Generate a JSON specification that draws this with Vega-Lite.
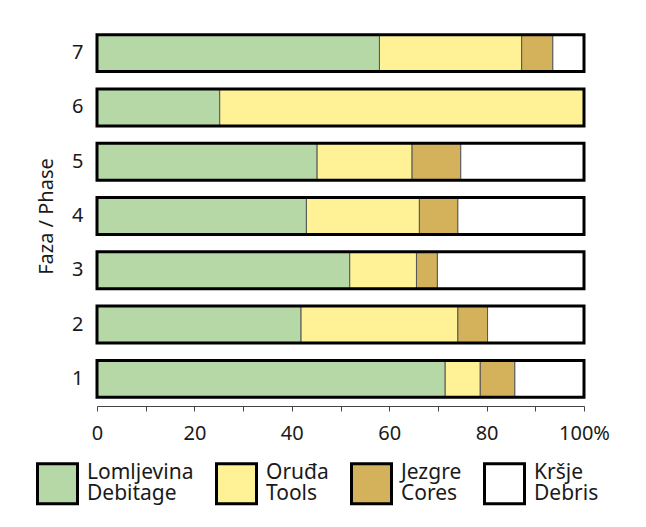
{
  "$schema": "https://vega.github.io/schema/vega-lite/v6.json",
  "autosize": {"type": "none"},
  "padding": {"left": 97, "top": 26, "right": 62, "bottom": 121},
  "width": 487,
  "height": 380,
  "background": "white",
  "config": {
    "view": {"stroke": null},
    "font": "Noto Sans",
    "axis": {"labelFont": "Noto Sans", "titleFont": "Noto Sans", "labelColor": "#1a1a1a", "titleColor": "#1a1a1a"},
    "legend": {"labelFont": "Noto Sans", "labelColor": "#1a1a1a"}
  },
  "data": {
    "values": [
      {"phase": "7", "cat": "Lomljevina|Debitage", "k": 1, "value": 58.0},
      {"phase": "7", "cat": "Oruđa|Tools", "k": 2, "value": 29.2},
      {"phase": "7", "cat": "Jezgre|Cores", "k": 3, "value": 6.4},
      {"phase": "7", "cat": "Kršje|Debris", "k": 4, "value": 6.4},
      {"phase": "6", "cat": "Lomljevina|Debitage", "k": 1, "value": 25.2},
      {"phase": "6", "cat": "Oruđa|Tools", "k": 2, "value": 74.8},
      {"phase": "6", "cat": "Jezgre|Cores", "k": 3, "value": 0},
      {"phase": "6", "cat": "Kršje|Debris", "k": 4, "value": 0},
      {"phase": "5", "cat": "Lomljevina|Debitage", "k": 1, "value": 45.2},
      {"phase": "5", "cat": "Oruđa|Tools", "k": 2, "value": 19.5},
      {"phase": "5", "cat": "Jezgre|Cores", "k": 3, "value": 10.0},
      {"phase": "5", "cat": "Kršje|Debris", "k": 4, "value": 25.3},
      {"phase": "4", "cat": "Lomljevina|Debitage", "k": 1, "value": 43.0},
      {"phase": "4", "cat": "Oruđa|Tools", "k": 2, "value": 23.2},
      {"phase": "4", "cat": "Jezgre|Cores", "k": 3, "value": 7.9},
      {"phase": "4", "cat": "Kršje|Debris", "k": 4, "value": 25.9},
      {"phase": "3", "cat": "Lomljevina|Debitage", "k": 1, "value": 51.9},
      {"phase": "3", "cat": "Oruđa|Tools", "k": 2, "value": 13.7},
      {"phase": "3", "cat": "Jezgre|Cores", "k": 3, "value": 4.3},
      {"phase": "3", "cat": "Kršje|Debris", "k": 4, "value": 30.1},
      {"phase": "2", "cat": "Lomljevina|Debitage", "k": 1, "value": 41.9},
      {"phase": "2", "cat": "Oruđa|Tools", "k": 2, "value": 32.2},
      {"phase": "2", "cat": "Jezgre|Cores", "k": 3, "value": 6.1},
      {"phase": "2", "cat": "Kršje|Debris", "k": 4, "value": 19.8},
      {"phase": "1", "cat": "Lomljevina|Debitage", "k": 1, "value": 71.5},
      {"phase": "1", "cat": "Oruđa|Tools", "k": 2, "value": 7.2},
      {"phase": "1", "cat": "Jezgre|Cores", "k": 3, "value": 7.1},
      {"phase": "1", "cat": "Kršje|Debris", "k": 4, "value": 14.2}
    ]
  },
  "encoding": {
    "y": {
      "field": "phase",
      "type": "nominal",
      "sort": ["7", "6", "5", "4", "3", "2", "1"],
      "scale": {"paddingInner": 0.32, "paddingOuter": 0.16},
      "axis": {
        "title": "Faza / Phase",
        "titleFontSize": 20,
        "titleFontWeight": "normal",
        "titlePadding": 15,
        "labelFontSize": 20,
        "labelPadding": 14,
        "labelAngle": 0,
        "domain": false,
        "ticks": false
      }
    }
  },
  "layer": [
    {
      "mark": {"type": "bar", "stroke": "#555555", "strokeWidth": 1},
      "encoding": {
        "x": {
          "field": "value",
          "type": "quantitative",
          "stack": "zero",
          "scale": {"domain": [0, 100], "nice": false},
          "axis": {
            "title": null,
            "values": [0, 10, 20, 30, 40, 50, 60, 70, 80, 90, 100],
            "labelExpr": "datum.value % 20 == 0 ? (datum.value == 100 ? '100%' : datum.label) : ''",
            "grid": false,
            "domainColor": "#444444",
            "tickColor": "#444444",
            "tickSize": 5,
            "labelFontSize": 20,
            "labelPadding": 12,
            "labelFlush": false,
            "labelOverlap": false
          }
        },
        "color": {
          "field": "cat",
          "type": "nominal",
          "scale": {
            "domain": ["Lomljevina|Debitage", "Oruđa|Tools", "Jezgre|Cores", "Kršje|Debris"],
            "range": ["#b6d7a6", "#fff196", "#d4b15b", "#ffffff"]
          },
          "legend": {
            "title": null,
            "orient": "none",
            "legendX": -61,
            "legendY": 436,
            "direction": "horizontal",
            "symbolType": "square",
            "symbolSize": 1600,
            "symbolStrokeColor": "black",
            "symbolStrokeWidth": 3,
            "labelFontSize": 21,
            "labelOffset": 8,
            "columnPadding": 16,
            "labelLimit": 300,
            "labelExpr": "split(datum.label, '|')",
            "encode": {
              "labels": {"update": {"lineHeight": {"value": 21}, "dy": {"value": -10.5}}}
            }
          }
        },
        "order": {"field": "k", "type": "quantitative"}
      }
    },
    {
      "mark": {"type": "bar", "fillOpacity": 0, "stroke": "black", "strokeWidth": 3},
      "encoding": {
        "x": {"aggregate": "sum", "field": "value", "type": "quantitative"}
      }
    }
  ]
}
